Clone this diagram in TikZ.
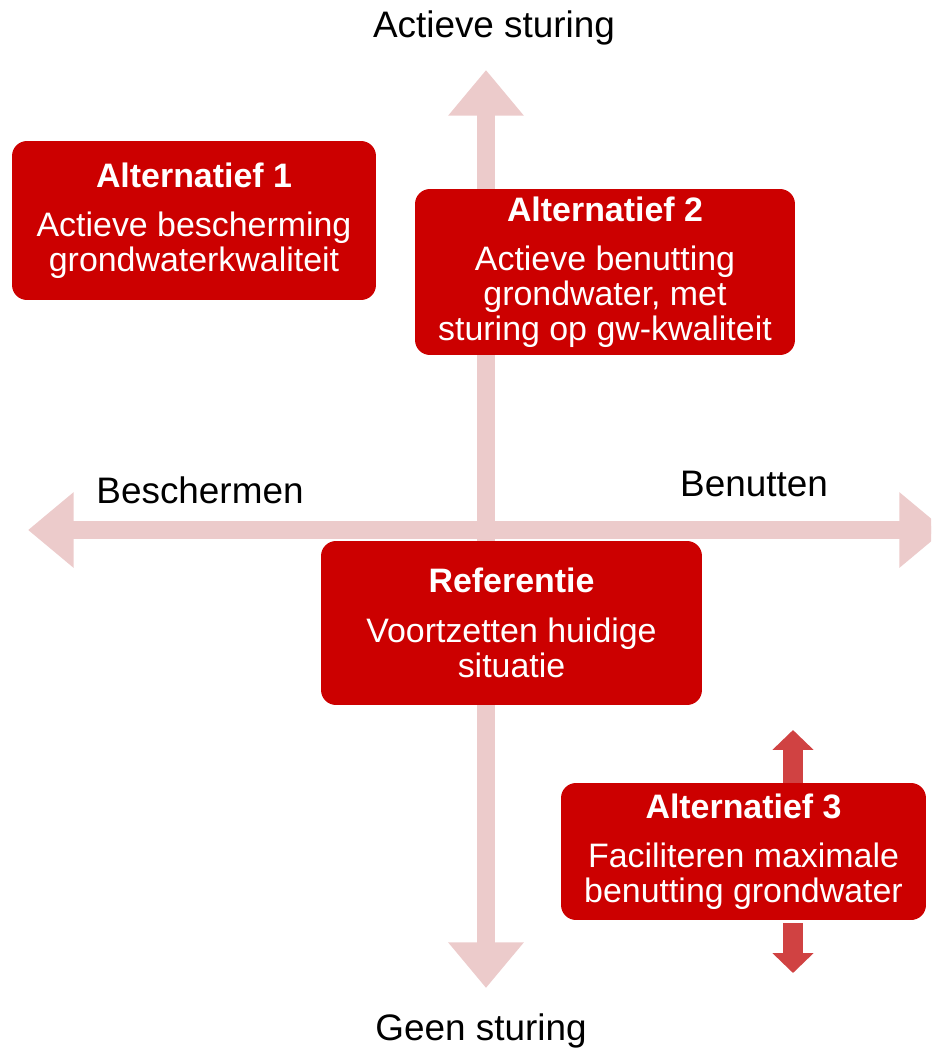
\documentclass[tikz,border=0pt]{standalone}
\usepackage{fontspec}
\setmainfont{Liberation Sans}
\usetikzlibrary{arrows.meta}
\definecolor{boxred}{HTML}{CC0000}
\definecolor{axispink}{HTML}{ECCBCB}
\definecolor{shiftred}{HTML}{D04242}

\begin{document}
\begin{tikzpicture}[x=0.02cm,y=-0.02cm,
  axis/.style={draw=axispink,line width=10.8pt,{Triangle[length=26pt,width=41.4pt]}-{Triangle[length=26pt,width=41.4pt]}},
  shiftarrow/.style={draw=shiftred,line width=11.9pt,-{Triangle[length=11.3pt,width=22.7pt]}},
  alt/.style={rectangle,rounded corners=8.5pt,fill=boxred,text=white,align=center,inner sep=0pt,
    font=\fontsize{19.3}{19.8}\selectfont},
  lbl/.style={font=\fontsize{21}{24}\selectfont,text=black}]
\useasboundingbox (0,0) rectangle (931,1049);
\clip (0,0) rectangle (931,1049);
% axes
\coordinate (top) at (486,70);
\coordinate (bottom) at (486,988);
\coordinate (left) at (28,530);
\coordinate (right) at (945,530);
\draw[axis] (top) -- (bottom);
\draw[axis] (left) -- (right);
% axis labels
\node[lbl] (sturing) at (494,28) {Actieve sturing};
\node[lbl] (geen) at (481,1031) {Geen sturing};
\node[lbl] (besch) at (200,490) {Beschermen};
\node[lbl] (benut) at (754,484) {Benutten};
% boxes
\node[alt,minimum width=7.28cm,minimum height=3.18cm] (alt1) at (194,220.5)
  {\textbf{Alternatief 1}\\[8.5pt]Actieve bescherming\\grondwaterkwaliteit};
\node[alt,minimum width=7.6cm,minimum height=3.32cm] (alt2) at (605,272)
  {\textbf{Alternatief 2}\\[8.5pt]Actieve benutting\\grondwater, met\\sturing op gw-kwaliteit};
\node[alt,minimum width=7.62cm,minimum height=3.28cm] (ref) at (511.5,623)
  {\textbf{Referentie}\\[8.5pt]Voortzetten huidige\\situatie};
\node[alt,minimum width=7.3cm,minimum height=2.74cm] (alt3) at (743.5,851.5)
  {\textbf{Alternatief 3}\\[8.5pt]Faciliteren maximale\\benutting grondwater};
% shift of alternatief 3
\coordinate (up) at (793,730);
\coordinate (down) at (793,973);
\draw[shiftarrow] (alt3.north -| up) -- (up);
\draw[shiftarrow] ([yshift=-0.06cm]alt3.south -| down) -- (down);
\end{tikzpicture}
\end{document}
